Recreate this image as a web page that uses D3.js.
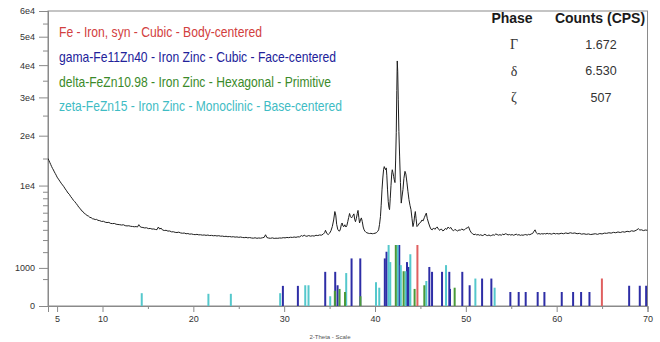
<!DOCTYPE html>
<html>
<head>
<meta charset="utf-8">
<script src="https://cdn.jsdelivr.net/npm/d3@7"></script>
<style>
  body { margin: 0; background: #fff; }
  svg { display: block; }
</style>
</head>
<body>
<svg id="chart" width="660" height="342"></svg>
<script>
// Measured scan: [2-theta (deg), counts]
const scan = [
  [4.0,15000],[4.1,14600],[4.2,14200],[4.3,13800],[4.4,13400],[4.5,13050],[4.6,12750],[4.7,12400],
  [4.8,12100],[4.9,11800],[5.0,11450],[5.15,11100],[5.3,10750],[5.45,10400],[5.6,10100],[5.75,9800],
  [5.9,9450],[6.05,9150],[6.2,8800],[6.35,8600],[6.5,8250],[6.65,8000],[6.8,7700],[6.95,7500],
  [7.1,7250],[7.25,7000],[7.4,6700],[7.55,6550],[7.7,6250],[7.85,6150],[8.0,5900],[8.15,5800],
  [8.3,5650],[8.45,5580],[8.6,5420],[8.75,5380],[8.9,5250],[9.05,5220],[9.2,5150],[9.35,5170],
  [9.5,5060],[9.7,5020],[9.9,4930],[10.1,4950],[10.3,4840],[10.5,4800],[10.7,4820],[10.9,4700],
  [11.1,4680],[11.3,4700],[11.5,4610],[11.7,4580],[11.9,4560],[12.1,4520],[12.3,4550],[12.5,4450],
  [12.7,4420],[12.9,4440],[13.1,4380],[13.3,4360],[13.5,4330],[13.7,4350],[13.85,4300],[14.0,4560],
  [14.1,4380],[14.25,4280],[14.45,4250],[14.65,4200],[14.85,4220],[15.05,4130],[15.25,4150],[15.45,4080],
  [15.65,4090],[15.85,4030],[16.0,4020],[16.15,4300],[16.3,4080],[16.45,4180],[16.6,3990],[16.8,3930],
  [17.0,3950],[17.2,3870],[17.4,3880],[17.6,3790],[17.8,3800],[18.0,3740],[18.2,3720],[18.4,3760],
  [18.6,3680],[18.8,3650],[19.0,3670],[19.2,3600],[19.4,3620],[19.6,3560],[19.8,3580],[20.0,3530],
  [20.2,3510],[20.4,3540],[20.6,3490],[20.8,3500],[21.0,3460],[21.2,3480],[21.4,3440],[21.6,3470],
  [21.8,3420],[22.0,3440],[22.2,3400],[22.4,3420],[22.6,3380],[22.8,3410],[23.0,3360],[23.2,3370],
  [23.4,3330],[23.6,3350],[23.8,3310],[24.0,3330],[24.2,3290],[24.4,3310],[24.6,3270],[24.8,3290],
  [25.0,3250],[25.2,3280],[25.4,3240],[25.6,3220],[25.8,3250],[26.0,3200],[26.2,3230],[26.4,3190],
  [26.6,3170],[26.8,3210],[27.0,3160],[27.2,3190],[27.4,3170],[27.6,3210],[27.8,3250],[27.95,3500],
  [28.1,3230],[28.3,3180],[28.5,3160],[28.7,3200],[28.9,3150],[29.1,3170],[29.3,3160],[29.5,3190],
  [29.7,3180],[29.9,3220],[30.1,3200],[30.3,3240],[30.5,3220],[30.7,3260],[30.9,3240],[31.1,3280],
  [31.3,3250],[31.5,3300],[31.7,3290],[31.9,3420],[32.05,3350],[32.2,3460],[32.35,3380],[32.5,3350],
  [32.7,3420],[32.9,3360],[33.1,3400],[33.3,3370],[33.5,3450],[33.7,3420],[33.9,3480],[34.1,3460],
  [34.3,3560],[34.45,3700],[34.55,3950],[34.7,3620],[34.85,3520],[35.0,3650],[35.15,3900],[35.3,4350],
  [35.45,5100],[35.58,6150],[35.68,5700],[35.78,4600],[35.9,4050],[36.0,3900],[36.1,3870],[36.2,4100],
  [36.3,4600],[36.38,4750],[36.48,4400],[36.58,4350],[36.68,4550],[36.8,4300],[36.9,4450],[37.0,4900],
  [37.1,5400],[37.2,5900],[37.3,5500],[37.42,5350],[37.5,5500],[37.6,5700],[37.68,5850],[37.76,5200],
  [37.85,4900],[37.95,5300],[38.05,5900],[38.13,6300],[38.22,5400],[38.3,4750],[38.4,5100],[38.5,5350],
  [38.6,4900],[38.7,4300],[38.8,4000],[38.9,3850],[39.0,3750],[39.1,3700],[39.25,3650],[39.4,3620],
  [39.55,3640],[39.7,3600],[39.85,3620],[40.0,3650],[40.15,3700],[40.3,3850],[40.4,4000],[40.5,4600],
  [40.6,5500],[40.68,7000],[40.77,9300],[40.86,11300],[40.95,12900],[41.02,13400],[41.1,13000],[41.17,12800],
  [41.24,13150],[41.3,11800],[41.38,9300],[41.46,7500],[41.53,6700],[41.6,6400],[41.68,8000],[41.76,10000],
  [41.84,12000],[41.9,12800],[41.97,12300],[42.05,11600],[42.12,11000],[42.2,10500],[42.27,14500],[42.34,20700],
  [42.4,32000],[42.45,41400],[42.5,38000],[42.56,29500],[42.63,21000],[42.71,15500],[42.8,10500],[42.89,7300],
  [42.97,8200],[43.08,9350],[43.18,11200],[43.3,12500],[43.4,12000],[43.52,10450],[43.63,9000],[43.74,7800],
  [43.85,7000],[43.96,6400],[44.07,5300],[44.18,4350],[44.28,4800],[44.36,5600],[44.44,6150],[44.52,5300],
  [44.62,4350],[44.75,4500],[44.9,4750],[45.05,4850],[45.17,5100],[45.3,5000],[45.43,5380],[45.55,5700],
  [45.65,5950],[45.75,5300],[45.9,4750],[46.05,4300],[46.18,4050],[46.3,4000],[46.45,4200],[46.6,4050],
  [46.75,4250],[46.85,4300],[47.0,4050],[47.15,3950],[47.3,4100],[47.45,3900],[47.6,3950],[47.75,4150],
  [47.9,4050],[48.05,4300],[48.2,4150],[48.35,4250],[48.5,4000],[48.65,3900],[48.8,4050],[48.95,3950],
  [49.1,3880],[49.25,4000],[49.4,3950],[49.55,4100],[49.7,3980],[49.85,4000],[50.0,4150],[50.15,4200],
  [50.3,4330],[50.45,3950],[50.6,3700],[50.75,3600],[50.9,3500],[51.05,3560],[51.2,3480],[51.35,3520],
  [51.5,3450],[51.65,3500],[51.8,3420],[51.95,3460],[52.1,3550],[52.25,3450],[52.4,3420],[52.55,3480],
  [52.7,3400],[52.85,3440],[53.0,3500],[53.15,3450],[53.3,3580],[53.45,3520],[53.6,3460],[53.75,3510],
  [53.9,3450],[54.05,3560],[54.2,3500],[54.35,3600],[54.5,3560],[54.65,3480],[54.8,3530],[54.95,3470],
  [55.1,3520],[55.25,3450],[55.4,3500],[55.55,3560],[55.7,3470],[55.85,3510],[56.0,3440],[56.15,3480],
  [56.3,3450],[56.45,3500],[56.6,3520],[56.75,3460],[56.9,3540],[57.05,3500],[57.2,3580],[57.35,3620],
  [57.5,3850],[57.62,4000],[57.75,3700],[57.9,3580],[58.05,3620],[58.2,3560],[58.35,3610],[58.5,3570],
  [58.65,3620],[58.8,3580],[58.95,3640],[59.1,3590],[59.25,3620],[59.4,3560],[59.55,3600],[59.7,3650],
  [59.85,3580],[60.0,3620],[60.25,3580],[60.5,3650],[60.75,3600],[61.0,3680],[61.25,3620],[61.5,3700],
  [61.75,3640],[62.0,3680],[62.25,3600],[62.5,3640],[62.75,3560],[63.0,3600],[63.25,3540],[63.5,3580],
  [63.75,3520],[64.0,3560],[64.25,3600],[64.5,3540],[64.75,3620],[65.0,3580],[65.25,3660],[65.5,3640],
  [65.75,3700],[66.0,3660],[66.25,3740],[66.5,3700],[66.75,3780],[67.0,3720],[67.25,3800],[67.5,3760],
  [67.75,3850],[68.0,3800],[68.25,3900],[68.5,3850],[68.75,3950],[69.0,4120],[69.15,3980],[69.35,4000],
  [69.55,3920],[69.75,3980],[70.0,3950]
];

// Reference stick patterns: [2-theta, relative intensity %]
const feSticks = [[44.67,100],[64.98,45]];
const gammaSticks = [
  [29.86,33],[31.51,33],[34.52,56],[35.62,56],[35.88,34],[37.42,78],[38.38,78],[41.08,78],
  [41.27,89],[42.67,100],[43.52,72],[43.7,64],[45.98,64],[46.28,56],[47.38,56],[48.18,56],
  [48.26,28],[49.61,56],[50.42,34],[51.79,45],[52.81,45],[54.9,23],[55.82,23],[56.59,23],
  [57.91,23],[58.65,23],[60.56,23],[61.81,23],[62.69,23],[63.61,23],[67.98,33],[69.15,33],[69.85,33]
];
const deltaSticks = [
  [35.58,25],[36.1,28],[36.7,23],[38.4,16],[42.29,100],[43.15,57],[44.36,28],[45.43,34],[48.77,30]
];
const zetaSticks = [
  [14.32,21],[21.66,20],[24.13,20],[29.56,21],[32.32,34],[32.68,34],[35.07,16],[36.83,54],
  [40.11,39],[40.47,30],[41.5,100],[41.68,72],[42.49,100],[42.84,67],[43.37,57],[43.89,85],
  [45.65,41],[47.82,67],[51.05,45],[53.17,30]
];

const phaseLabels = [
  "Fe - Iron, syn - Cubic - Body-centered",
  "gama-Fe11Zn40 - Iron Zinc - Cubic - Face-centered",
  "delta-FeZn10.98 - Iron Zinc - Hexagonal - Primitive",
  "zeta-FeZn15 - Iron Zinc - Monoclinic - Base-centered"
];
const phaseColors = ["#d24040", "#22229a", "#3b8a2a", "#3fbcc4"];
const stickColors = ["#e06060", "#2e2ea6", "#4a9a3a", "#55c8cc"];

const tableHeader = ["Phase", "Counts (CPS)"];
const tablePhases = ["\u0393", "\u03B4", "\u03B6"];
const tableCounts = ["1.672", "6.530", "507"];

const xTickValues = [5, 10, 20, 30, 40, 50, 60, 70];
const xMinorTicks = [15, 25, 35, 45, 55, 65];
const yTickValues = [0, 1000, 10000, 20000, 30000, 40000, 50000, 60000];
const yTickLabels = ["0", "1000", "1e4", "2e4", "3e4", "4e4", "5e4", "6e4"];
const yMinorTicks = [500, 2000, 3000, 4000, 5000, 6000, 7000, 8000, 9000, 15000, 25000, 35000, 45000, 55000];

const svg = d3.select("#chart");
const mLeft = 48, mRight = 647.5, mTop = 11, mBottom = 306;

const x = d3.scaleLinear().domain([4, 70]).range([mLeft, mRight]);
const y = d3.scaleSqrt().domain([0, 60000]).range([mBottom, mTop]);
const stickY = d3.scaleLinear().domain([0, 100]).range([mBottom, 245]);

const axisColor = "#8a8a8a";
const font = "'Liberation Sans', Arial, sans-serif";

// Plot frame
svg.append("rect")
  .attr("x", mLeft).attr("y", mTop)
  .attr("width", mRight - mLeft).attr("height", mBottom - mTop)
  .attr("fill", "none").attr("stroke", axisColor).attr("stroke-width", 1);

// Y axis (major + minor ticks)
const yAxis = svg.append("g").attr("transform", `translate(${mLeft},0)`)
  .call(d3.axisLeft(y).tickValues(yTickValues)
    .tickFormat((d, i) => yTickLabels[i]).tickSize(9).tickPadding(4));
const yMinor = svg.append("g").attr("transform", `translate(${mLeft},0)`)
  .call(d3.axisLeft(y).tickValues(yMinorTicks).tickFormat("").tickSize(5));

// X axis (major + minor ticks)
const xAxis = svg.append("g").attr("transform", `translate(0,${mBottom})`)
  .call(d3.axisBottom(x).tickValues(xTickValues).tickSize(6).tickPadding(4));
const xMinor = svg.append("g").attr("transform", `translate(0,${mBottom})`)
  .call(d3.axisBottom(x).tickValues(xMinorTicks).tickFormat("").tickSize(3));

[yAxis, yMinor, xAxis, xMinor].forEach(g => {
  g.select(".domain").attr("stroke", axisColor);
  g.selectAll(".tick line").attr("stroke", axisColor);
  g.selectAll(".tick text").attr("fill", "#333").style("font-family", font).style("font-size", "9px");
});

svg.append("text")
  .attr("x", 330).attr("y", 339).attr("text-anchor", "middle")
  .style("font-family", font).style("font-size", "6px").attr("fill", "#555")
  .text("2-Theta - Scale");

// Clip region for data marks
svg.append("clipPath").attr("id", "plotClip")
  .append("rect").attr("x", mLeft).attr("y", mTop)
  .attr("width", mRight - mLeft).attr("height", mBottom - mTop);

const plot = svg.append("g").attr("clip-path", "url(#plotClip)");

// Stick patterns
const stickSets = [feSticks, gammaSticks, deltaSticks, zetaSticks];
// draw order: gamma, zeta, delta, Fe on top
[1, 3, 2, 0].forEach(i => {
  plot.append("g").selectAll("line")
    .data(stickSets[i]).join("line")
    .attr("x1", d => x(d[0])).attr("x2", d => x(d[0]))
    .attr("y1", y(0)).attr("y2", d => stickY(d[1]))
    .attr("stroke", stickColors[i]).attr("stroke-width", 2);
});

// Scan line
const line = d3.line().x(d => x(d[0])).y(d => y(d[1]));
plot.append("path")
  .datum(scan)
  .attr("d", line)
  .attr("fill", "none")
  .attr("stroke", "#1e1e1e")
  .attr("stroke-width", 1)
  .attr("stroke-linejoin", "round");

// Phase legend
const legendWidths = [203, 277, 272, 283];
svg.append("g").selectAll("text")
  .data(phaseLabels).join("text")
  .attr("x", 59).attr("y", (d, i) => 37 + i * 24.8)
  .attr("textLength", (d, i) => legendWidths[i])
  .attr("lengthAdjust", "spacingAndGlyphs")
  .style("font-family", font).style("font-size", "14.5px")
  .attr("fill", (d, i) => phaseColors[i])
  .text(d => d);

// Phase counts table
const table = svg.append("g");
table.selectAll("text.head")
  .data(tableHeader).join("text").attr("class", "head")
  .attr("x", (d, i) => [512, 600][i]).attr("y", 23)
  .attr("text-anchor", "middle")
  .style("font-family", font).style("font-size", "14px").style("font-weight", "bold")
  .attr("fill", "#1a1a1a")
  .text(d => d);
table.selectAll("text.phase")
  .data(tablePhases).join("text").attr("class", "phase")
  .attr("x", 514).attr("y", (d, i) => 49 + i * 26.5)
  .attr("text-anchor", "middle")
  .style("font-family", "'Liberation Serif', 'Times New Roman', serif").style("font-size", "14px")
  .attr("fill", "#333")
  .text(d => d);
table.selectAll("text.count")
  .data(tableCounts).join("text").attr("class", "count")
  .attr("x", 601).attr("y", (d, i) => 48.5 + i * 26.5)
  .attr("text-anchor", "middle")
  .style("font-family", font).style("font-size", "12.5px")
  .attr("fill", "#333")
  .text(d => d);
</script>
</body>
</html>
